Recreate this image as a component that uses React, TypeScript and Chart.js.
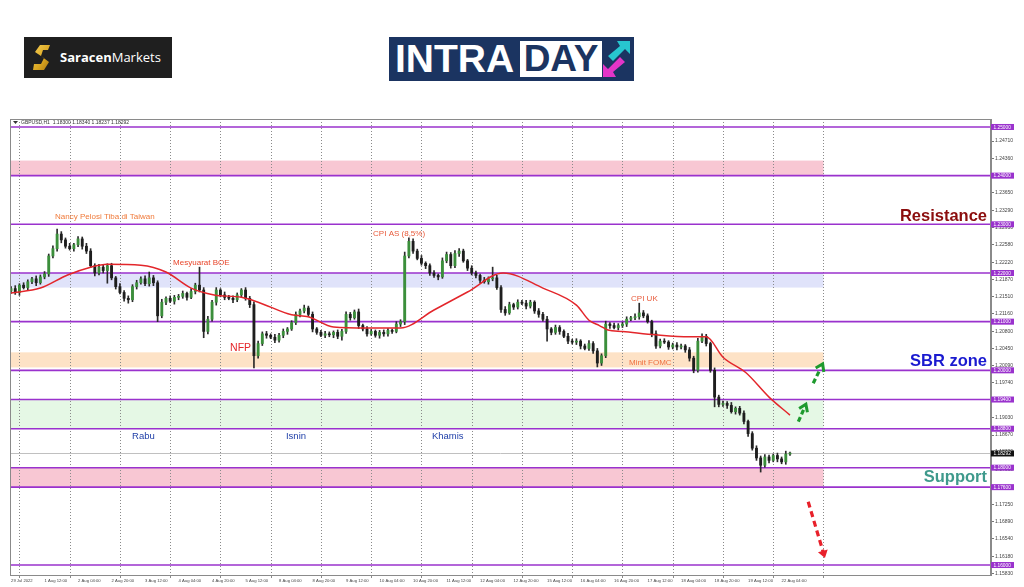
import React, { useEffect, useRef } from "react";
import { Chart, registerables } from "chart.js";

Chart.register(...registerables);

// ---------- DATA ----------
const PIP = 0.0001;
// 2-hour GBPUSD bars, hour index counted in trading hours from 29 Jul 2022 20:00
const firstOpen = 1.2163;
const closes = [
  1.2168, 1.2160, 1.2175, 1.2170, 1.2182, 1.2188, 1.2180, 1.2192, 1.2198, 1.2235,
  1.2250, 1.2280, 1.2268, 1.2255, 1.2250, 1.2258, 1.2270, 1.2255, 1.2245, 1.2215,
  1.2200, 1.2212, 1.2205, 1.2215, 1.2190, 1.2172, 1.2160, 1.2148, 1.2145, 1.2172,
  1.2180, 1.2188, 1.2178, 1.2190, 1.2180, 1.2112, 1.2140, 1.2148, 1.2142, 1.2150,
  1.2152, 1.2158, 1.2150, 1.2162, 1.2175, 1.2165, 1.2080, 1.2105, 1.2140, 1.2165,
  1.2155, 1.2150, 1.2148, 1.2145, 1.2155, 1.2165, 1.2148, 1.2135, 1.2030, 1.2055,
  1.2075, 1.2072, 1.2068, 1.2062, 1.2072, 1.2080, 1.2085, 1.2098, 1.2115, 1.2122,
  1.2128, 1.2115, 1.2085, 1.2078, 1.2072, 1.2075, 1.2073, 1.2078, 1.2070, 1.2080,
  1.2115, 1.2108, 1.2120, 1.2092, 1.2085, 1.2075, 1.2080, 1.2072, 1.2078, 1.2075,
  1.2082, 1.2080, 1.2095, 1.2100, 1.2235, 1.2265, 1.2245, 1.2230, 1.2220, 1.2215,
  1.2200, 1.2195, 1.2192, 1.2225, 1.2238, 1.2215, 1.2240, 1.2245, 1.2225, 1.2210,
  1.2200, 1.2195, 1.2185, 1.2182, 1.2188, 1.2190, 1.2170, 1.2125, 1.2118, 1.2135,
  1.2130, 1.2140, 1.2138, 1.2132, 1.2140, 1.2122, 1.2115, 1.2105, 1.2085, 1.2078,
  1.2088, 1.2080, 1.2070, 1.2060, 1.2058, 1.2060, 1.2050, 1.2045, 1.2055, 1.2040,
  1.2015, 1.2030, 1.2095, 1.2092, 1.2088, 1.2092, 1.2095, 1.2105, 1.2108, 1.2110,
  1.2118, 1.2112, 1.2100, 1.2075, 1.2050, 1.2060, 1.2058, 1.2048, 1.2052, 1.2048,
  1.2050, 1.2042, 1.2025, 1.2000, 1.2060, 1.2070, 1.2055, 1.2000, 1.1945, 1.1930,
  1.1932, 1.1928, 1.1915, 1.1922, 1.1912, 1.1895, 1.1870, 1.1840, 1.1820, 1.1805,
  1.1822, 1.1815, 1.1825, 1.1818, 1.1812, 1.1828, 1.18292,
];
// upper / lower wick length in pips
const wickUp = [
  4, 6, 3, 5, 4, 3, 6, 4, 5, 4,
  6, 10, 5, 4, 6, 3, 5, 4, 6, 5,
  4, 6, 5, 4, 5, 3, 6, 4, 5, 4,
  5, 4, 6, 12, 5, 4, 6, 3, 5, 4,
  4, 5, 3, 6, 4, 37, 5, 6, 4, 5,
  3, 6, 4, 5, 4, 3, 5, 4, 6, 5,
  4, 5, 3, 6, 4, 5, 3, 4, 5, 4,
  6, 4, 5, 3, 4, 5, 4, 3, 5, 4,
  5, 4, 4, 6, 3, 5, 4, 3, 4, 5,
  4, 3, 5, 4, 8, 7, 5, 4, 6, 3,
  4, 5, 3, 6, 5, 4, 6, 5, 4, 3,
  5, 4, 3, 6, 4, 22, 5, 4, 6, 5,
  3, 5, 4, 6, 4, 3, 5, 4, 6, 3,
  5, 4, 3, 6, 4, 5, 3, 4, 6, 4,
  5, 4, 6, 3, 5, 4, 4, 5, 3, 6,
  20, 5, 4, 3, 6, 4, 5, 3, 4, 5,
  4, 3, 5, 4, 6, 5, 4, 3, 5, 4,
  5, 4, 6, 3, 4, 5, 3, 4, 5, 4,
  5, 4, 3, 5, 4, 6, 3,
];
const wickDn = [
  5, 4, 6, 3, 5, 4, 6, 3, 4, 5,
  4, 5, 6, 4, 3, 5, 4, 6, 5, 4,
  6, 4, 5, 26, 4, 5, 3, 6, 7, 4,
  5, 3, 4, 5, 6, 12, 4, 5, 3, 6,
  5, 4, 6, 3, 5, 4, 13, 5, 4, 6,
  4, 5, 3, 6, 4, 5, 4, 6, 25, 5,
  4, 6, 3, 5, 4, 5, 6, 3, 4, 5,
  4, 5, 6, 4, 3, 5, 4, 6, 5, 8,
  4, 5, 3, 6, 4, 5, 3, 4, 6, 5,
  5, 4, 3, 5, 6, 4, 5, 3, 4, 6,
  5, 4, 6, 3, 4, 5, 4, 6, 3, 5,
  4, 5, 6, 3, 5, 4, 4, 6, 5, 3,
  5, 4, 3, 6, 4, 5, 6, 4, 25, 5,
  4, 6, 3, 5, 4, 5, 6, 3, 4, 5,
  8, 5, 4, 6, 3, 5, 4, 5, 3, 4,
  5, 4, 3, 6, 5, 4, 3, 5, 4, 6,
  4, 5, 6, 5, 4, 3, 5, 4, 20, 5,
  4, 6, 3, 5, 4, 5, 6, 4, 5, 14,
  4, 5, 3, 6, 4, 5, 3,
];
const barStepHours = 2;

// moving average (red line)
const maHours = [0, 14, 27, 38, 46, 62, 74, 86, 97, 110, 118, 134, 142, 154, 170, 186, 202, 218, 235, 254, 270, 276, 281, 285, 292, 308, 324, 332, 340, 351, 362, 372];
const maValues = [1.2159, 1.2169, 1.2196, 1.2212, 1.2218, 1.2216, 1.2202, 1.2169, 1.2155, 1.2150, 1.2140, 1.2114, 1.2110, 1.2089, 1.2087, 1.2087, 1.2124, 1.2161, 1.2200, 1.2169, 1.2134, 1.2103, 1.2092, 1.2083, 1.2080, 1.2073, 1.2069, 1.2069, 1.2027, 1.1995, 1.1945, 1.1908];

// time axis
const xTickHours = [0, 16, 32, 48, 64, 80, 96, 112, 128, 144, 160, 176, 192, 208, 224, 240, 256, 272, 288, 304, 320, 336, 352, 368];
const xTickLabels = ["29 Jul 2022", "1 Aug 12:00", "2 Aug 04:00", "2 Aug 20:00", "3 Aug 12:00", "4 Aug 04:00", "4 Aug 20:00", "5 Aug 12:00", "8 Aug 04:00", "8 Aug 20:00", "9 Aug 12:00", "10 Aug 04:00", "10 Aug 20:00", "11 Aug 12:00", "12 Aug 04:00", "12 Aug 20:00", "15 Aug 12:00", "16 Aug 04:00", "16 Aug 20:00", "17 Aug 12:00", "18 Aug 04:00", "18 Aug 20:00", "19 Aug 12:00", "22 Aug 04:00"];
const gridHours = [4, 28, 52, 76, 100, 124, 148, 172, 196, 220, 244, 268, 292, 316, 340, 364, 388];
const xMin = -0.5;
const xMax = 468;

// price axis
const yMin = 1.15795;
const yMax = 1.25164;
const yTickValues = [1.2471, 1.2436, 1.2365, 1.2329, 1.2293, 1.2258, 1.2222, 1.2187, 1.2151, 1.2116, 1.208, 1.2045, 1.2009, 1.1974, 1.1938, 1.1903, 1.1867, 1.1832, 1.1796, 1.1725, 1.1689, 1.1654, 1.1618, 1.1583];
const levelValues = [1.25, 1.24, 1.23, 1.22, 1.21, 1.2, 1.194, 1.188, 1.18, 1.176, 1.16];
const currentPrice = 1.18292;
const headerText = "GBPUSD,H1  1.18300 1.18340 1.18237 1.18292";

// zones
const zoneHigh = [1.2431, 1.22, 1.2037, 1.194, 1.18];
const zoneLow = [1.24, 1.217, 1.2006, 1.188, 1.176];
const zoneColors = ["rgba(246,180,196,0.75)", "rgba(214,218,248,0.75)", "rgba(252,214,174,0.7)", "rgba(222,246,222,0.8)", "rgba(246,180,196,0.75)"];
const zoneEndHour = 388;

// annotations
const noteTexts = ["Nancy Pelosi Tiba di Taiwan", "Mesyuarat BOE", "NFP", "CPI AS (8,5%)", "CPI UK", "Minit FOMC", "Rabu", "Isnin", "Khamis", "Resistance", "SBR zone", "Support"];
const noteHours = [21, 77.4, 104.6, 172.9, 296.1, 295.1, 57.8, 131.3, 201, 466.1, 466.1, 466.1];
const notePrices = [1.2315, 1.2221, 1.2046, 1.228, 1.2147, 1.2015, 1.1865, 1.1865, 1.1865, 1.2317, 1.2019, 1.1779];
const noteColors = ["#f07a3a", "#e8452a", "#e4262a", "#e85a3a", "#e85a3a", "#f07040", "#1f3fa8", "#1f3fa8", "#1f3fa8", "#8b0d0d", "#1a1ad0", "#3f9a8c"];
const noteSizes = [8, 8, 10.5, 8, 8, 8, 9.5, 9.5, 9.5, 16.5, 16.5, 16.5];
const noteBold = [false, false, false, false, false, false, false, false, false, true, true, true];
const noteAlign = ["left", "left", "left", "left", "left", "left", "left", "left", "left", "right", "right", "right"];

// dashed arrows
const arrowTailH = [383.1, 376, 380.7];
const arrowTailP = [1.19734, 1.18945, 1.17301];
const arrowHeadH = [387.6, 379.6, 388.7];
const arrowHeadP = [1.2013, 1.19302, 1.16144];
const arrowColors = ["#1e9a2e", "#1e9a2e", "#e8202a"];

// ---------- STYLE ----------
const LEVEL = "#9a32cd";
const BULL = "#3b8f3b";
const BEAR = "#1e1e1e";
const FONT = '"Liberation Sans", Arial, sans-serif';

function drawArrow(ctx: CanvasRenderingContext2D, x1: number, y1: number, x2: number, y2: number, color: string, filled: boolean) {
  const ang = Math.atan2(y2 - y1, x2 - x1);
  ctx.save();
  ctx.strokeStyle = color;
  ctx.fillStyle = color;
  ctx.lineWidth = 3.2;
  ctx.setLineDash(filled ? [6, 4] : [5, 3]);
  ctx.beginPath();
  ctx.moveTo(x1, y1);
  ctx.lineTo(x2 - 6 * Math.cos(ang), y2 - 6 * Math.sin(ang));
  ctx.stroke();
  ctx.setLineDash([]);
  const s = filled ? 9 : 8;
  ctx.beginPath();
  ctx.moveTo(x2 - s * Math.cos(ang - 0.6), y2 - s * Math.sin(ang - 0.6));
  ctx.lineTo(x2, y2);
  ctx.lineTo(x2 - s * Math.cos(ang + 0.6), y2 - s * Math.sin(ang + 0.6));
  if (filled) {
    ctx.closePath();
    ctx.fill();
  } else {
    ctx.lineWidth = 3;
    ctx.stroke();
  }
  ctx.restore();
}

const overlay = {
  id: "overlay",
  beforeDatasetsDraw(chart: any) {
    const { ctx, chartArea: a, scales } = chart;
    const x = scales.x;
    const y = scales.y;
    ctx.save();
    ctx.beginPath();
    ctx.rect(a.left, a.top, a.right - a.left, a.bottom - a.top);
    ctx.clip();
    zoneHigh.forEach((hi, i) => {
      const y1 = y.getPixelForValue(hi);
      const y2 = y.getPixelForValue(zoneLow[i]);
      ctx.fillStyle = zoneColors[i];
      ctx.fillRect(a.left, y1, x.getPixelForValue(zoneEndHour) - a.left, y2 - y1);
    });
    ctx.strokeStyle = "#8a8a8a";
    ctx.lineWidth = 1;
    ctx.setLineDash([1, 2]);
    gridHours.forEach((h) => {
      const px = Math.round(x.getPixelForValue(h)) + 0.5;
      ctx.beginPath();
      ctx.moveTo(px, a.top);
      ctx.lineTo(px, a.bottom);
      ctx.stroke();
    });
    ctx.setLineDash([]);
    const cp = Math.round(y.getPixelForValue(currentPrice)) + 0.5;
    ctx.strokeStyle = "#c0c0c0";
    ctx.beginPath();
    ctx.moveTo(a.left, cp);
    ctx.lineTo(a.right, cp);
    ctx.stroke();
    ctx.strokeStyle = LEVEL;
    ctx.lineWidth = 1.6;
    levelValues.forEach((v) => {
      const py = y.getPixelForValue(v);
      ctx.beginPath();
      ctx.moveTo(a.left, py);
      ctx.lineTo(a.right, py);
      ctx.stroke();
    });
    ctx.restore();
  },
  afterDatasetsDraw(chart: any) {
    const { ctx, chartArea: a, scales } = chart;
    const x = scales.x;
    const y = scales.y;
    ctx.save();
    noteTexts.forEach((t, i) => {
      ctx.font = `${noteBold[i] ? "bold " : ""}${noteSizes[i]}px ${FONT}`;
      ctx.fillStyle = noteColors[i];
      ctx.textAlign = noteAlign[i] as CanvasTextAlign;
      ctx.textBaseline = "middle";
      ctx.fillText(t, x.getPixelForValue(noteHours[i]), y.getPixelForValue(notePrices[i]));
    });
    arrowTailH.forEach((h, i) => {
      drawArrow(
        ctx,
        x.getPixelForValue(h),
        y.getPixelForValue(arrowTailP[i]),
        x.getPixelForValue(arrowHeadH[i]),
        y.getPixelForValue(arrowHeadP[i]),
        arrowColors[i],
        i === 2
      );
    });
    ctx.fillStyle = "#333";
    ctx.beginPath();
    ctx.moveTo(a.left + 3, a.top + 2);
    ctx.lineTo(a.left + 8, a.top + 2);
    ctx.lineTo(a.left + 5.5, a.top + 5);
    ctx.closePath();
    ctx.fill();
    ctx.font = `5px ${FONT}`;
    ctx.textAlign = "left";
    ctx.textBaseline = "middle";
    ctx.fillText(headerText, a.left + 11, a.top + 3.5);
    ctx.restore();
  },
  afterDraw(chart: any) {
    const { ctx, chartArea: a, scales } = chart;
    const x = scales.x;
    const y = scales.y;
    ctx.save();
    ctx.strokeStyle = "#8a8a8a";
    ctx.lineWidth = 1;
    ctx.strokeRect(a.left + 0.5, a.top + 0.5, a.right - a.left - 1, a.bottom - a.top);
    gridHours.forEach((h) => {
      const px = Math.round(x.getPixelForValue(h)) + 0.5;
      ctx.beginPath();
      ctx.moveTo(px, a.bottom);
      ctx.lineTo(px, a.bottom + 3);
      ctx.stroke();
    });
    ctx.font = `4.8px ${FONT}`;
    ctx.textAlign = "left";
    ctx.textBaseline = "middle";
    levelValues.forEach((v) => {
      const py = y.getPixelForValue(v);
      ctx.fillStyle = LEVEL;
      ctx.fillRect(a.right, py - 3, 23, 6);
      ctx.fillStyle = "#fff";
      ctx.fillText(v.toFixed(5), a.right + 2.5, py + 0.3);
    });
    const cp = y.getPixelForValue(currentPrice);
    ctx.fillStyle = "#111";
    ctx.fillRect(a.right, cp - 3, 23, 6);
    ctx.fillStyle = "#fff";
    ctx.fillText(currentPrice.toFixed(5), a.right + 2.5, cp + 0.3);
    ctx.restore();
  },
};

function SaracenIcon() {
  return (
    <svg width="18" height="27" viewBox="0 0 18 27" style={{ position: "absolute", left: 9, top: 7 }}>
      <defs>
        <linearGradient id="gold" x1="0" y1="0" x2="1" y2="1">
          <stop offset="0" stopColor="#f6cf55" />
          <stop offset="0.6" stopColor="#d9a520" />
          <stop offset="1" stopColor="#a87610" />
        </linearGradient>
      </defs>
      <path d="M17 1 L7 1 L2 8 L11 14 L8 20 L1 20 L0 26 L11 26 L16 18 L8 12 L10 6 L15 6 Z" fill="url(#gold)" />
    </svg>
  );
}

function IntradayIcon() {
  return (
    <svg width="31" height="40" viewBox="0 0 31 40" style={{ position: "absolute", left: 212, top: 2 }}>
      <polygon points="16,2 29,2 29,15 24,10 12,22 7,17 19,7" fill="#27c6d0" />
      <polygon points="15,38 2,38 2,25 7,30 19,18 24,23 12,33" fill="#e335c8" />
    </svg>
  );
}

export default function App() {
  const ref = useRef<HTMLCanvasElement>(null);

  useEffect(() => {
    if (!ref.current) return;
    const bars = closes.map((c, k) => {
      const o = k === 0 ? firstOpen : closes[k - 1];
      return {
        h: k * barStepHours,
        o,
        c,
        hi: Math.max(o, c) + wickUp[k] * PIP,
        lo: Math.min(o, c) - wickDn[k] * PIP,
      };
    });

    const chart = new Chart(ref.current, {
      type: "bar",
      data: {
        datasets: [
          {
            type: "line",
            label: "MA",
            data: maHours.map((h, i) => ({ x: h, y: maValues[i] })),
            borderColor: "#e3262b",
            borderWidth: 1.5,
            pointRadius: 0,
            cubicInterpolationMode: "monotone",
            order: 0,
          } as any,
          {
            type: "bar",
            label: "body",
            data: bars.map((b) => ({ x: b.h, y: [b.o, b.c] })),
            backgroundColor: bars.map((b) => (b.c >= b.o ? BULL : BEAR)),
            barThickness: 2.2,
            minBarLength: 1,
            grouped: false,
            order: 1,
          } as any,
          {
            type: "bar",
            label: "wick",
            data: bars.map((b) => ({ x: b.h, y: [b.lo, b.hi] })),
            backgroundColor: "#2a2a2a",
            barThickness: 1,
            grouped: false,
            order: 2,
          } as any,
        ],
      },
      options: {
        animation: false,
        responsive: false,
        maintainAspectRatio: false,
        events: [],
        layout: { padding: { left: 10, top: 119, right: 0, bottom: 0 } },
        plugins: {
          legend: { display: false },
          tooltip: { enabled: false },
          title: { display: false },
        },
        scales: {
          x: {
            type: "linear",
            min: xMin,
            max: xMax,
            offset: false,
            afterFit: (s: any) => {
              s.height = 12;
            },
            afterBuildTicks: (s: any) => {
              s.ticks = xTickHours.map((v) => ({ value: v }));
            },
            ticks: {
              autoSkip: false,
              maxRotation: 0,
              minRotation: 0,
              align: "start",
              padding: 3.5,
              color: "#444",
              font: { size: 4.2, family: FONT },
              callback: (_v: any, i: number) => xTickLabels[i],
            },
            grid: { display: false, drawTicks: false },
            border: { display: true, color: "#8a8a8a" },
          },
          y: {
            type: "linear",
            position: "right",
            min: yMin,
            max: yMax,
            bounds: "data",
            afterFit: (s: any) => {
              s.width = 33;
            },
            afterBuildTicks: (s: any) => {
              s.ticks = yTickValues.map((v) => ({ value: v }));
            },
            ticks: {
              autoSkip: false,
              padding: 1,
              color: "#444",
              font: { size: 5, family: FONT },
              callback: (v: any) => Number(v).toFixed(5),
            },
            grid: { display: true, drawOnChartArea: false, drawTicks: true, tickLength: 3, color: "#777" },
            border: { display: true, color: "#8a8a8a" },
          },
        },
      } as any,
      plugins: [overlay],
    });
    return () => chart.destroy();
  }, []);

  return (
    <div style={{ position: "absolute", left: 0, top: 0, width: 1024, height: 587, background: "#fff", overflow: "hidden" }}>
      <canvas ref={ref} width={1024} height={587} style={{ position: "absolute", left: 0, top: 0, width: 1024, height: 587 }} />
      <div style={{ position: "absolute", left: 24, top: 37, width: 148, height: 41, background: "#1f1f1f" }}>
        <SaracenIcon />
        <div
          style={{
            position: "absolute",
            left: 36,
            top: 0,
            height: 41,
            lineHeight: "41px",
            fontFamily: '"Open Sans", "Liberation Sans", sans-serif',
            fontSize: 13,
            color: "#fff",
            whiteSpace: "nowrap",
          }}
        >
          <span style={{ fontWeight: 700 }}>Saracen</span>
          <span style={{ fontWeight: 400 }}>Markets</span>
        </div>
      </div>
      <div style={{ position: "absolute", left: 389, top: 37, width: 245, height: 44, background: "#1b3461" }}>
        <div
          style={{
            position: "absolute",
            left: 6,
            top: 0,
            height: 44,
            lineHeight: "44px",
            fontFamily: FONT,
            fontWeight: 700,
            fontSize: 39,
            color: "#fff",
            whiteSpace: "nowrap",
          }}
        >
          INTRA
        </div>
        <div style={{ position: "absolute", left: 131, top: 4, width: 82, height: 36, background: "#fff" }}>
          <div
            style={{
              width: 82,
              height: 36,
              lineHeight: "36px",
              textAlign: "center",
              fontFamily: FONT,
              fontWeight: 700,
              fontSize: 37,
              color: "#1b3461",
              whiteSpace: "nowrap",
            }}
          >
            DAY
          </div>
        </div>
        <IntradayIcon />
      </div>
    </div>
  );
}
